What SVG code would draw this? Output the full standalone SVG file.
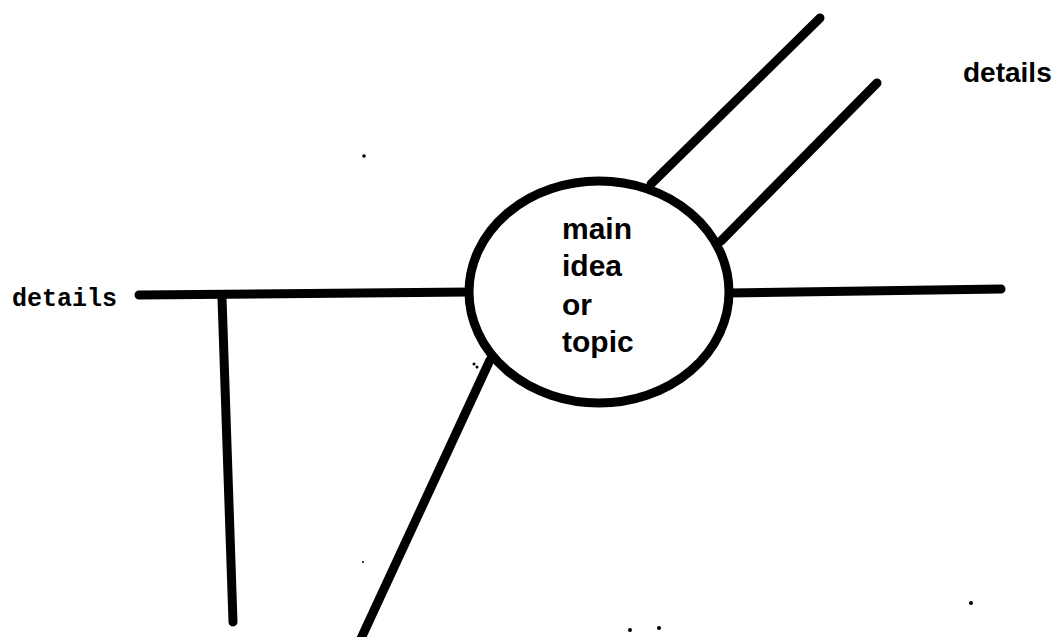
<svg xmlns="http://www.w3.org/2000/svg" width="1057" height="637" viewBox="0 0 1057 637">
<style>
.ln{stroke:#000;stroke-width:9;stroke-linecap:round;fill:none}
.hv{font-family:"Liberation Sans",Arial,sans-serif;font-weight:bold;fill:#000}
.mono{font-family:"Liberation Mono","Courier New",monospace;font-weight:bold;fill:#000}
</style>
<rect width="1057" height="637" fill="#fff"/>
<g id="connectors">
<line class="ln" x1="139" y1="295" x2="470" y2="292"/>
<line class="ln" x1="222" y1="298" x2="233" y2="622"/>
<line class="ln" x1="490" y1="360" x2="358" y2="645"/>
<line class="ln" x1="728" y1="293" x2="1001" y2="289"/>
<line class="ln" x1="651" y1="184" x2="820" y2="18"/>
<line class="ln" x1="721" y1="241" x2="877" y2="83"/>
</g>
<g id="main-idea">
<ellipse cx="599" cy="292" rx="130" ry="111" fill="#fff" stroke="#000" stroke-width="9"/>
<text class="hv" font-size="30" x="562" y="239">main</text>
<text class="hv" font-size="30" x="562" y="276">idea</text>
<text class="hv" font-size="30" x="562" y="315">or</text>
<text class="hv" font-size="30" x="562" y="352">topic</text>
</g>
<g id="details-left">
<text class="mono" font-size="25" x="12" y="306">details</text>
</g>
<g id="details-right">
<text class="hv" font-size="28" x="963" y="82">details</text>
</g>
<g id="specks" fill="#000">
<circle cx="364" cy="156" r="1.8"/>
<circle cx="474" cy="364" r="1.5"/>
<circle cx="477" cy="367" r="1.5"/>
<circle cx="363" cy="562" r="1"/>
<circle cx="630" cy="630" r="2"/>
<circle cx="659" cy="628" r="2"/>
<circle cx="971" cy="603" r="2"/>
</g>
</svg>
